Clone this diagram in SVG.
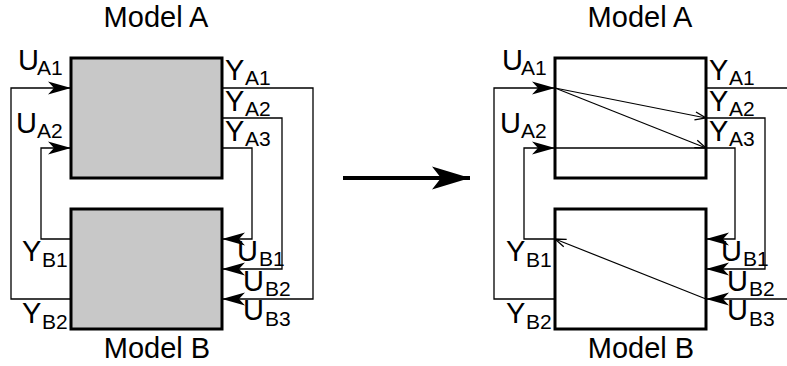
<svg xmlns="http://www.w3.org/2000/svg" width="787" height="366" viewBox="0 0 787 366">
<defs>
<style>
.box{stroke:#000;stroke-width:3}
.fill{fill:#c8c8c8}
.nofill{fill:none}
.wire{fill:none;stroke:#000;stroke-width:1.3}
.thin{fill:none;stroke:#000;stroke-width:1.2}
.t{font-family:"Liberation Sans",Arial,sans-serif;fill:#000}
.title{font-size:29px;text-anchor:middle}
.lbl{font-size:29px}
.sub{font-size:21px}
</style>
<marker id="ah" viewBox="-24 -7 24 14" refX="0" refY="0" markerWidth="24" markerHeight="14" markerUnits="userSpaceOnUse" orient="auto">
<path d="M0,0 L-23,-6.5 L-17,0 L-23,6.5 Z" fill="#000"/>
</marker>
<marker id="oh" viewBox="-12 -5 13 10" refX="0" refY="0" markerWidth="13" markerHeight="10" markerUnits="userSpaceOnUse" orient="auto">
<path d="M-11,-4 L0,0 L-11,4" fill="none" stroke="#000" stroke-width="1.3"/>
</marker>
<marker id="big" viewBox="-40 -12 40 24" refX="0" refY="0" markerWidth="40" markerHeight="24" markerUnits="userSpaceOnUse" orient="auto">
<path d="M0,0 L-38,-11.5 L-29,0 L-38,11.5 Z" fill="#000"/>
</marker>
</defs>
<rect width="787" height="366" fill="#fff"/>

<g id="connectors">
<path class="wire" d="M71,299 H11 V88 H71" marker-end="url(#ah)"/>
<path class="wire" d="M71,239 H41 V148 H71" marker-end="url(#ah)"/>
<path class="wire" d="M222,88 H313 V299 H222" marker-end="url(#ah)"/>
<path class="wire" d="M222,118 H282 V269 H222" marker-end="url(#ah)"/>
<path class="wire" d="M222,148 H252 V239 H222" marker-end="url(#ah)"/>

<path class="wire" d="M555,299 H494 V88 H555" marker-end="url(#ah)"/>
<path class="wire" d="M555,239 H524 V148 H555" marker-end="url(#ah)"/>
<path class="wire" d="M706,88 H797 V299 H706" marker-end="url(#ah)"/>
<path class="wire" d="M706,118 H765 V269 H706" marker-end="url(#ah)"/>
<path class="wire" d="M706,148 H735 V239 H706" marker-end="url(#ah)"/>
<path class="wire" d="M555,148 H706"/>
<path class="thin" d="M555,88 L706,118" marker-end="url(#oh)"/>
<path class="thin" d="M555,88 L706,148" marker-end="url(#oh)"/>
<path class="thin" d="M706,299 L555,239" marker-end="url(#oh)"/>

<path d="M343,178 H470" fill="none" stroke="#000" stroke-width="4" marker-end="url(#big)"/>
</g>

<g id="modelA-left">
<rect class="box fill" x="71" y="58" width="151" height="120"/>
<text class="t title" x="156" y="27">Model A</text>
<text class="t lbl" x="18" y="70">U<tspan class="sub" x="37" y="75">A1</tspan></text>
<text class="t lbl" x="16" y="133">U<tspan class="sub" x="37" y="138">A2</tspan></text>
<text class="t lbl" x="225" y="80">Y<tspan class="sub" x="245" y="85">A1</tspan></text>
<text class="t lbl" x="225" y="111">Y<tspan class="sub" x="245" y="116">A2</tspan></text>
<text class="t lbl" x="225" y="141">Y<tspan class="sub" x="245" y="146">A3</tspan></text>
</g>

<g id="modelB-left">
<rect class="box fill" x="71" y="209" width="151" height="120"/>
<text class="t title" x="157" y="358">Model B</text>
<text class="t lbl" x="22" y="261">Y<tspan class="sub" x="42" y="267">B1</tspan></text>
<text class="t lbl" x="22" y="323">Y<tspan class="sub" x="42" y="329">B2</tspan></text>
<text class="t lbl" x="237" y="261">U<tspan class="sub" x="259" y="266">B1</tspan></text>
<text class="t lbl" x="243" y="291">U<tspan class="sub" x="265" y="296">B2</tspan></text>
<text class="t lbl" x="243" y="320">U<tspan class="sub" x="265" y="326">B3</tspan></text>
</g>

<g id="modelA-right">
<rect class="box nofill" x="555" y="58" width="151" height="120"/>
<text class="t title" x="640" y="27">Model A</text>
<text class="t lbl" x="502" y="70">U<tspan class="sub" x="521" y="75">A1</tspan></text>
<text class="t lbl" x="500" y="133">U<tspan class="sub" x="521" y="138">A2</tspan></text>
<text class="t lbl" x="709" y="80">Y<tspan class="sub" x="729" y="85">A1</tspan></text>
<text class="t lbl" x="709" y="111">Y<tspan class="sub" x="729" y="116">A2</tspan></text>
<text class="t lbl" x="709" y="141">Y<tspan class="sub" x="729" y="146">A3</tspan></text>
</g>

<g id="modelB-right">
<rect class="box nofill" x="555" y="209" width="151" height="120"/>
<text class="t title" x="641" y="358">Model B</text>
<text class="t lbl" x="506" y="261">Y<tspan class="sub" x="526" y="267">B1</tspan></text>
<text class="t lbl" x="506" y="323">Y<tspan class="sub" x="526" y="329">B2</tspan></text>
<text class="t lbl" x="721" y="261">U<tspan class="sub" x="743" y="266">B1</tspan></text>
<text class="t lbl" x="727" y="291">U<tspan class="sub" x="749" y="296">B2</tspan></text>
<text class="t lbl" x="727" y="320">U<tspan class="sub" x="749" y="326">B3</tspan></text>
</g>
</svg>
